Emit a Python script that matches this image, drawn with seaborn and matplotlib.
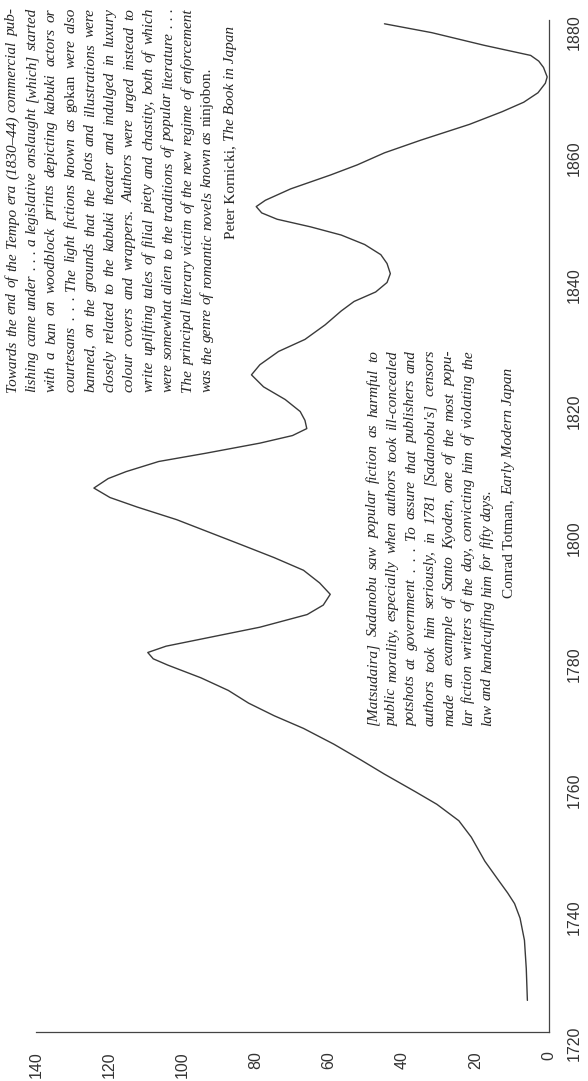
import pandas as pd
import seaborn as sns
import matplotlib.pyplot as plt

# Courbe (année, nombre de titres)
years = [1725, 1730, 1734.5, 1738, 1740.3, 1742, 1744, 1747, 1750.8, 1753.4,
         1756, 1758, 1760.8, 1763, 1765.5, 1768, 1770, 1772, 1774, 1776,
         1778, 1779, 1780, 1781, 1782.5, 1784, 1786, 1787.5, 1789.2, 1791,
         1793, 1795, 1797, 1799, 1801, 1803, 1804.5, 1806, 1807.5, 1808.6,
         1810.2, 1811.5, 1813.1, 1814.3, 1815.4, 1816.7, 1818.1, 1820, 1822, 1823.9,
         1825.5, 1827.6, 1829.5, 1831.8, 1834, 1835.5, 1837, 1838.5, 1839.9, 1841.5,
         1842.9, 1844.5, 1846, 1847.3, 1848.5, 1849.5, 1850.5, 1851.5, 1853.3, 1855.5,
         1857.1, 1859, 1861, 1863.5, 1865.5, 1867, 1868.5, 1870, 1871, 1872.5,
         1873.5, 1874.4, 1876, 1878, 1879.4]
works = [5.9, 6.2, 6.7, 7.9, 9.4, 11.3, 13.8, 17.5, 21.2, 24.6,
         30.6, 36.5, 45, 51.3, 58.7, 67, 75, 82, 87.5, 95,
         104, 108, 109.5, 104.5, 91.7, 78.9, 66, 61.6, 59.7, 62.6,
         67, 75, 83.8, 92.7, 101.6, 112.4, 119.8, 124.2, 120.3, 115.4,
         106.5, 93.7, 78.9, 70, 66.1, 66.6, 67.9, 72, 77.9, 81.2,
         78.9, 73.8, 66.6, 61.1, 56.7, 53.2, 47.3, 44.2, 43.3, 44.2,
         45.9, 50.3, 56.7, 65.1, 74.2, 78.4, 79.9, 77.4, 70.5, 59.6,
         52.3, 44.9, 35, 21.7, 12.8, 6.9, 3, 1, 0.5, 1.5,
         2.8, 5.0, 17.7, 32, 44.9]

value_ticks = [0, 20, 40, 60, 80, 100, 120, 140]
year_ticks = [1720, 1740, 1760, 1780, 1800, 1820, 1840, 1860, 1880]

kornicki_lines = [
    "Towards the end of the Tempo era (1830–44) commercial pub-",
    "lishing came under . . . a legislative onslaught [which] started",
    "with a ban on woodblock prints depicting kabuki actors or",
    "courtesans . . . The light fictions known as gokan were also",
    "banned, on the grounds that the plots and illustrations were",
    "closely related to the kabuki theater and indulged in luxury",
    "colour covers and wrappers. Authors were urged instead to",
    "write uplifting tales of filial piety and chastity, both of which",
    "were somewhat alien to the traditions of popular literature . . .",
    "The principal literary victim of the new regime of enforcement",
    "was the genre of romantic novels known as ninjobon.",
]
kornicki_source = ["Peter Kornicki,", "The Book in Japan"]

totman_lines = [
    "[Matsudaira] Sadanobu saw popular fiction as harmful to",
    "public morality, especially when authors took ill-concealed",
    "potshots at government . . . To assure that publishers and",
    "authors took him seriously, in 1781 [Sadanobu's] censors",
    "made an example of Santo Kyoden, one of the most popu-",
    "lar fiction writers of the day, convicting him of violating the",
    "law and handcuffing him for fifty days.",
]
totman_source = ["Conrad Totman,", "Early Modern Japan"]

upright_words = {"gokan", "ninjobon."}

W, H = 588, 1081
SERIF = "Liberation Serif"
FS = 11.0
INK = "#262626"

sns.set_theme(style="white")
plt.rcParams["font.family"] = ["Liberation Sans", "DejaVu Sans"]

fig = plt.figure(figsize=(W / 100, H / 100), dpi=100)
ax = fig.add_axes([36 / W, (H - 1032) / H, 513 / W, 1012 / H])

df = pd.DataFrame({"year": years, "works": works})
sns.lineplot(data=df, x="works", y="year", orient="y", color="#3a3a3a",
             linewidth=1.0, ax=ax)

ax.set_xlim(140, 0)
ax.set_ylim(1720, 1880)
ax.set_xticks(value_ticks)
ax.set_yticks(year_ticks)
ax.yaxis.tick_right()
ax.set_xlabel("")
ax.set_ylabel("")
ax.tick_params(length=0, labelsize=11.5, labelcolor="#333333")
ax.tick_params(axis="x", labelrotation=90, pad=14)
ax.tick_params(axis="y", labelrotation=90, pad=13)
sns.despine(ax=ax, left=True, top=True, right=False, bottom=False)
for s in ("right", "bottom"):
    ax.spines[s].set_color("#444444")
    ax.spines[s].set_linewidth(0.9)

# Citations en colonnes tournées, justifiées mot par mot
renderer = fig.canvas.get_renderer()


def measure(s, style):
    t = fig.text(0, 0, s, fontsize=FS, family=SERIF, style=style)
    w = t.get_window_extent(renderer).width
    t.remove()
    return w


space = measure("n n", "italic") - measure("nn", "italic")


def draw_words(words, x_px, y_start, length=None):
    styles = ["normal" if w in upright_words else "italic" for w in words]
    widths = [measure(w, st) for w, st in zip(words, styles)]
    gap = space
    if length is not None and len(words) > 1:
        gap = (length - sum(widths)) / (len(words) - 1)
    pos = y_start
    for w, st, wd in zip(words, styles, widths):
        fig.text(x_px / W, 1 - pos / H, w, fontsize=FS, family=SERIF, style=st,
                 color=INK, rotation=90, rotation_mode="anchor",
                 ha="left", va="baseline")
        pos -= wd + gap


def draw_source(parts, x_px, y_end):
    author, book = parts
    wa = measure(author, "normal")
    wb = measure(book, "italic")
    start = y_end + wa + space + wb
    fig.text(x_px / W, 1 - start / H, author, fontsize=FS, family=SERIF,
             color=INK, rotation=90, rotation_mode="anchor", ha="left", va="baseline")
    fig.text(x_px / W, 1 - (start - wa - space) / H, book, fontsize=FS, family=SERIF,
             style="italic", color=INK, rotation=90, rotation_mode="anchor",
             ha="left", va="baseline")


def draw_quote(lines, source, x0, step, y_bottom, y_top, src_gap):
    for i, line in enumerate(lines):
        last = i == len(lines) - 1
        draw_words(line.split(), x0 + 4 + i * step, y_bottom,
                   None if last else y_bottom - y_top)
    draw_source(source, x0 + 4 + (len(lines) - 1) * step + src_gap, y_top + 18)


draw_quote(kornicki_lines, kornicki_source, 12, 19.5, 392, 8, 23)
draw_quote(totman_lines, totman_source, 373, 19, 726, 350, 21)

fig.savefig("out.png", dpi=100)
